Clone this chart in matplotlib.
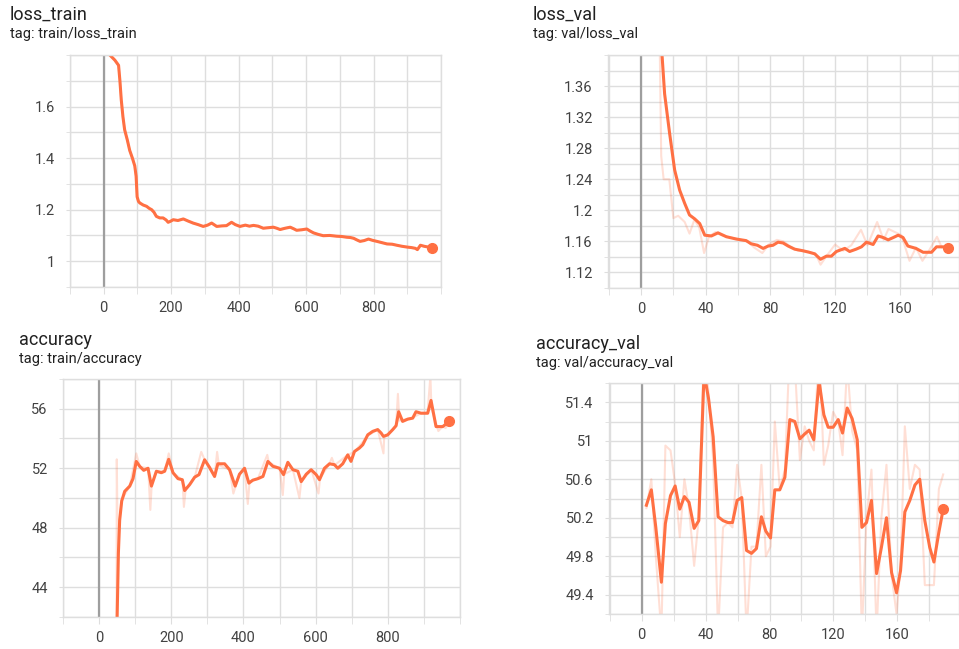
import matplotlib
matplotlib.use("Agg")
import matplotlib.pyplot as plt
from matplotlib.ticker import MultipleLocator, FixedLocator, FuncFormatter

plt.rcParams['font.family'] = ['Roboto', 'DejaVu Sans']

# ---- loss_train (smoothed curve)
lt_x = [5, 18, 33, 44, 48, 52, 57, 62, 70, 77, 85, 92, 96, 99, 103, 107, 117, 127, 135, 142,
        149, 156, 166, 176, 185, 191, 198, 206, 220, 236, 250, 265, 280, 295, 308, 320, 335,
        350, 364, 379, 390, 404, 420, 432, 444, 458, 473, 488, 503, 513, 523, 538, 553, 563,
        572, 587, 602, 612, 622, 636, 651, 670, 691, 705, 721, 731, 741, 750, 760, 772, 785,
        797, 810, 825, 840, 855, 869, 884, 899, 912, 924, 930, 939, 950, 962, 973]
lt_y = [1.86, 1.80, 1.78, 1.76, 1.70, 1.626, 1.56, 1.51, 1.47, 1.43, 1.40, 1.37, 1.33, 1.25,
        1.232, 1.226, 1.218, 1.213, 1.205, 1.20, 1.19, 1.174, 1.168, 1.168, 1.16, 1.151, 1.155,
        1.161, 1.158, 1.164, 1.156, 1.148, 1.142, 1.135, 1.14, 1.148, 1.135, 1.137, 1.138,
        1.151, 1.142, 1.135, 1.14, 1.136, 1.139, 1.136, 1.128, 1.13, 1.132, 1.128, 1.123,
        1.128, 1.132, 1.126, 1.12, 1.122, 1.125, 1.117, 1.11, 1.104, 1.099, 1.1, 1.097, 1.096,
        1.093, 1.092, 1.089, 1.083, 1.077, 1.08, 1.086, 1.081, 1.077, 1.072, 1.067, 1.066,
        1.062, 1.058, 1.055, 1.053, 1.05, 1.045, 1.062, 1.058, 1.055, 1.052]

# ---- loss_val
lv_x = [11, 13, 14.6, 17.7, 20.8, 23.9, 27, 30, 33.2, 36.3, 39.4, 43.5, 47.6, 52.8, 59, 65, 68,
        72, 75.5, 78.6, 81.6, 84.7, 87.8, 91, 95, 100, 104, 107.4, 111, 114.6, 117.7, 120.8,
        126, 129, 133, 136.3, 139.4, 143.5, 146.6, 149.7, 152.8, 156, 159, 162, 165, 170,
        174.4, 179.6, 182.7, 186.8, 189.5]
lv_y = [1.46, 1.40, 1.35, 1.299, 1.252, 1.226, 1.209, 1.194, 1.189, 1.183, 1.168, 1.167, 1.171,
        1.166, 1.163, 1.161, 1.157, 1.155, 1.151, 1.154, 1.155, 1.159, 1.158, 1.154, 1.15,
        1.148, 1.146, 1.144, 1.137, 1.141, 1.141, 1.147, 1.151, 1.147, 1.15, 1.153, 1.159,
        1.156, 1.167, 1.165, 1.162, 1.165, 1.168, 1.165, 1.154, 1.151, 1.146, 1.146, 1.153,
        1.153, 1.151]
lv_raw_x = [11, 12.5, 14, 17.5, 20, 23, 27, 30, 33, 36, 39, 42, 46, 50, 55, 60, 66, 70, 75, 79,
            84, 88, 92, 97, 103, 108, 111, 115, 120, 125, 130, 136, 140, 146, 150, 153, 157,
            161, 166, 170, 174, 178, 183, 186, 189.5]
lv_raw_y = [1.50, 1.27, 1.24, 1.24, 1.19, 1.193, 1.185, 1.17, 1.188, 1.178, 1.145, 1.166,
            1.172, 1.168, 1.165, 1.163, 1.16, 1.152, 1.145, 1.156, 1.162, 1.16, 1.154, 1.148,
            1.147, 1.144, 1.13, 1.142, 1.156, 1.148, 1.155, 1.175, 1.155, 1.185, 1.162, 1.176,
            1.172, 1.168, 1.135, 1.152, 1.135, 1.148, 1.166, 1.152, 1.155]

# ---- accuracy (train)
acc_x = [48, 50, 53.5, 57, 62.7, 71, 85, 94, 103, 112.5, 123.6, 135.6, 145, 158.7, 172.5,
         181.7, 192.8, 204.8, 218.6, 230.6, 237, 251, 264.8, 276.8, 292.4, 306, 320, 329,
         347.8, 361.6, 377, 389, 403, 415, 426, 440, 454, 467.7, 481.5, 500, 511, 523, 537,
         550.7, 560, 574, 587.6, 601.5, 610.7, 624.5, 638.4, 652, 661.4, 675, 689, 698, 707.6,
         721.4, 730.6, 744.5, 758.3, 772, 781.4, 787.8, 799.8, 813.7, 822.9, 830, 841, 855,
         869, 878, 892, 910.5, 919.7, 933.6, 952, 970.5]
acc_y = [38, 42, 46.3, 48.5, 49.8, 50.45, 50.8, 51.3, 52.46, 52.13, 51.86, 52.0, 50.8, 51.8,
         51.7, 51.8, 52.6, 51.7, 51.3, 51.23, 50.5, 50.9, 51.4, 51.57, 52.57, 52.06, 51.45,
         52.3, 52.3, 51.9, 50.8, 51.6, 52.0, 51.0, 51.2, 51.3, 51.45, 52.46, 52.13, 52.0,
         51.57, 52.4, 51.9, 51.8, 51.1, 51.6, 51.9, 51.57, 51.23, 52.0, 52.3, 52.24, 52.0,
         52.3, 52.9, 52.46, 53.13, 53.36, 53.58, 54.25, 54.48, 54.6, 54.37, 54.14, 54.25,
         54.6, 54.86, 55.8, 55.15, 55.3, 55.37, 55.8, 55.7, 55.7, 56.56, 54.8, 54.8, 55.15]
acc_raw_x = [48, 49, 52, 57, 63, 85, 103, 113, 136, 142, 146, 159, 182, 193, 205, 231, 235,
             240, 265, 283, 292, 306, 320, 327, 332, 362, 372, 389, 403, 412, 417, 440, 466,
             470, 500, 509, 513, 537, 555, 560, 588, 608, 612, 638, 645, 652, 689, 708, 745,
             772, 788, 790, 800, 823, 828, 832, 869, 892, 910, 918, 921, 940, 952, 960, 970.5]
acc_raw_y = [36, 52.6, 46.0, 48.6, 49.9, 50.8, 53.0, 52.1, 52.0, 49.2, 51.0, 51.8, 51.8, 53.0,
             51.7, 51.2, 49.4, 50.6, 51.4, 53.1, 52.6, 52.0, 51.4, 53.1, 52.2, 51.9, 50.3, 51.6,
             52.0, 49.6, 51.1, 51.3, 52.9, 52.4, 52.0, 50.2, 51.6, 51.9, 50.0, 51.1, 51.9, 50.3,
             51.3, 52.3, 52.7, 52.2, 52.9, 53.1, 54.2, 54.6, 53.0, 54.1, 54.2, 54.9, 57.0, 55.2,
             55.4, 55.7, 55.7, 58.2, 56.0, 54.5, 54.8, 54.7, 55.1]

# ---- accuracy_val
av_x = [2.9, 6, 8.8, 12.3, 14.8, 18, 20.9, 23.8, 26.7, 29.6, 32.8, 35.7, 39, 41.8, 44.7, 47.8,
        50.9, 54, 56.8, 59.7, 62.6, 65.6, 68.7, 71.8, 74.9, 77.7, 80.6, 83.3, 86.4, 89.6, 92.7,
        95.8, 99, 102, 104.8, 107.7, 111, 114, 116.7, 119.8, 123, 125.7, 128.6, 131.7, 134.9,
        137.8, 140.7, 143.8, 147, 150, 153.2, 156.4, 159.5, 162, 164.7, 167.8, 171, 174, 177.2,
        180.3, 182.9, 186, 188.7]
av_y = [50.33, 50.49, 50.1, 49.53, 50.14, 50.43, 50.53, 50.29, 50.42, 50.36, 50.09, 50.17,
        51.7, 51.44, 51.04, 50.21, 50.17, 50.15, 50.15, 50.38, 50.41, 49.86, 49.83, 49.88,
        50.21, 50.06, 49.99, 50.49, 50.49, 50.62, 51.22, 51.2, 51.02, 51.07, 51.11, 51.01,
        51.62, 51.27, 51.14, 51.14, 51.22, 51.08, 51.34, 51.23, 51.01, 50.1, 50.15, 50.38,
        49.62, 49.89, 50.2, 49.63, 49.42, 49.65, 50.26, 50.38, 50.54, 50.6, 50.17, 49.89,
        49.74, 50.05, 50.29]
av_raw_y = [50.3, 50.6, 49.8, 49.0, 50.95, 50.9, 50.55, 50.0, 50.6, 50.3, 49.7, 50.2, 52.0,
            51.5, 50.8, 49.0, 50.1, 50.15, 50.1, 50.75, 50.4, 49.0, 49.9, 49.9, 50.75, 49.8,
            49.9, 51.2, 50.5, 50.7, 52.0, 51.8, 50.8, 51.15, 51.0, 50.9, 52.0, 50.75, 50.95,
            51.3, 51.2, 50.85, 51.8, 51.1, 50.9, 49.0, 50.2, 50.7, 49.0, 50.2, 50.75, 49.6,
            49.2, 49.7, 51.15, 50.5, 50.75, 50.7, 49.5, 49.5, 49.5, 50.5, 50.65]

# labelled ticks, as shown in each panel
lt_xticks = [0, 200, 400, 600, 800]
lt_yticks = [1, 1.2, 1.4, 1.6]
lv_xticks = [0, 40, 80, 120, 160]
lv_yticks = [1.12, 1.16, 1.2, 1.24, 1.28, 1.32, 1.36]
acc_yticks = [44, 48, 52, 56]
av_yticks = [49.4, 49.8, 50.2, 50.6, 51, 51.4]

ORANGE = '#ff7043'
GRID = '#dedede'
W, H = 959, 649


def px_axes(fig, left, top, right, bottom):
    return fig.add_axes([left / W, 1 - bottom / H, (right - left) / W, (bottom - top) / H])


def style(ax, xlim, ylim, xticks, xmin, yticks, ymin):
    ax.set_xlim(*xlim)
    ax.set_ylim(*ylim)
    ax.xaxis.set_major_locator(FixedLocator(xticks))
    ax.xaxis.set_minor_locator(MultipleLocator(xmin))
    ax.yaxis.set_major_locator(FixedLocator(yticks))
    ax.yaxis.set_minor_locator(MultipleLocator(ymin))
    ax.yaxis.set_major_formatter(FuncFormatter(lambda v, p: f"{v:g}"))
    ax.xaxis.set_major_formatter(FuncFormatter(lambda v, p: f"{v:g}"))
    ax.grid(True, which='both', color=GRID, lw=1.0)
    ax.set_axisbelow(True)
    for s in ax.spines.values():
        s.set_color(GRID)
        s.set_linewidth(1.0)
    ax.tick_params(axis='x', which='both', length=5, color=GRID, labelsize=10.5,
                   labelcolor='#424242', pad=5)
    ax.tick_params(axis='y', which='both', length=3, color=GRID, labelsize=10.5,
                   labelcolor='#424242', pad=8)
    ax.axvline(0, color='#9e9e9e', lw=1.6, zorder=1.5)


def header(fig, x, y, title, tag):
    fig.text(x / W, 1 - y / H, title, fontsize=13, color='#212121', va='baseline')
    fig.text(x / W, 1 - (y + 18) / H, tag, fontsize=10.5, color='#212121', va='baseline')


fig = plt.figure(figsize=(W / 100, H / 100), dpi=100)

# loss_train
ax1 = px_axes(fig, 70, 55, 441, 287)
ax1.plot(lt_x, lt_y, color=ORANGE, alpha=0.25, lw=1.5)
ax1.plot(lt_x, lt_y, color=ORANGE, lw=2.2)
ax1.plot(lt_x[-1], lt_y[-1], 'o', color=ORANGE, ms=7)
style(ax1, (-100, 1000), (0.9, 1.8), lt_xticks, 100, lt_yticks, 0.1)
header(fig, 10, 20, 'loss_train', 'tag: train/loss_train')

# loss_val
ax2 = px_axes(fig, 608, 55, 959, 288)
ax2.plot(lv_raw_x, lv_raw_y, color=ORANGE, alpha=0.22, lw=1.5)
ax2.plot(lv_x, lv_y, color=ORANGE, lw=2.2)
ax2.plot(lv_x[-1], lv_y[-1], 'o', color=ORANGE, ms=7)
style(ax2, (-20.4, 196.6), (1.10, 1.40), lv_xticks, 20, lv_yticks, 0.02)
header(fig, 533, 20, 'loss_val', 'tag: val/loss_val')

# accuracy
ax3 = px_axes(fig, 63, 379, 460, 617)
ax3.plot(acc_raw_x, acc_raw_y, color=ORANGE, alpha=0.22, lw=1.5)
ax3.plot(acc_x, acc_y, color=ORANGE, lw=2.2)
ax3.plot(acc_x[-1], acc_y[-1], 'o', color=ORANGE, ms=7)
style(ax3, (-100, 1000), (42, 58), lt_xticks, 100, acc_yticks, 2)
header(fig, 19, 345, 'accuracy', 'tag: train/accuracy')

# accuracy_val
ax4 = px_axes(fig, 609, 383, 959, 614)
ax4.plot(av_x, av_raw_y, color=ORANGE, alpha=0.22, lw=1.5)
ax4.plot(av_x, av_y, color=ORANGE, lw=2.2)
ax4.plot(av_x[-1], av_y[-1], 'o', color=ORANGE, ms=7)
style(ax4, (-20.5, 198.6), (49.2, 51.6), lv_xticks, 20, av_yticks, 0.2)
header(fig, 536, 349, 'accuracy_val', 'tag: val/accuracy_val')

fig.savefig('out.png', dpi=100, facecolor='white')
